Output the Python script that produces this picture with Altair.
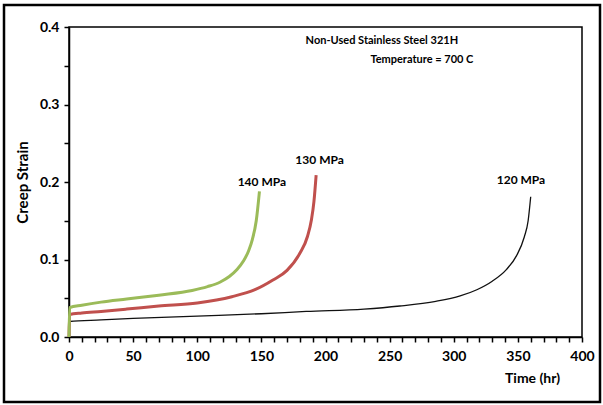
import altair as alt
import pandas as pd

# 140 MPa (green)
t140 = [0, 0.5, 10, 25, 45, 70, 96, 108, 118, 125, 131, 136, 140, 143, 146, 148.5]
s140 = [0, 0.038, 0.041, 0.045, 0.049, 0.054, 0.060, 0.065, 0.071, 0.078, 0.087, 0.098, 0.111, 0.126, 0.150, 0.188]
# 130 MPa (red)
t130 = [0, 0.5, 10, 25, 45, 70, 100, 127, 145, 159, 170, 180, 186, 189, 191, 192.7]
s130 = [0, 0.029, 0.031, 0.033, 0.036, 0.040, 0.044, 0.052, 0.061, 0.0735, 0.086, 0.108, 0.130, 0.151, 0.175, 0.209]
# 120 MPa (black)
t120 = [0, 0.5, 25, 50, 100, 150, 185, 230, 258, 286, 305, 318, 330, 341, 349, 355, 358, 360]
s120 = [0, 0.020, 0.022, 0.024, 0.027, 0.030, 0.033, 0.036, 0.040, 0.046, 0.053, 0.061, 0.072, 0.087, 0.105, 0.129, 0.150, 0.181]

curve_text = ["140 MPa", "130 MPa", "120 MPa"]
curve_t = [131.5, 176.5, 333.5]
curve_s = [0.200, 0.228, 0.2025]

note_text = ["Non-Used Stainless Steel 321H", "Temperature = 700 C"]
note_t = [184.5, 235.0]
note_s = [0.382, 0.357]

x_ticks = list(range(0, 401, 10))
y_ticks = [0, 0.05, 0.1, 0.15, 0.2, 0.25, 0.3, 0.35, 0.4]

FONT = "Lato"

def df(t, s, name):
    return pd.DataFrame({"t": t, "s": s, "series": name})

x_scale = alt.Scale(domain=[0, 400], nice=False, zero=False)
y_scale = alt.Scale(domain=[0, 0.4], nice=False)

x_axis = alt.Axis(
    values=x_ticks,
    labelExpr="datum.value % 50 == 0 ? datum.label : ''",
    format="d",
    grid=False, domainColor="black", domainWidth=1.5,
    tickColor="black", tickSize=5, tickWidth=1.5,
    labelFont=FONT, labelFontSize=14, labelFontWeight="bold", labelColor="black",
    labelPadding=7, labelFlush=False, labelOverlap=False, labelBound=False,
    title="Time (hr)", titleFont=FONT, titleFontSize=14, titleFontWeight="bold",
    titleColor="black", titleX=463, titleY=41, titleAlign="center", titleBaseline="middle",
)
y_axis = alt.Axis(
    values=y_ticks,
    labelExpr="abs(round(datum.value*10) - datum.value*10) < 1e-6 ? format(datum.value, '.1f') : ''",
    grid=False, domainColor="black", domainWidth=1.5,
    tickColor="black", tickSize=5, tickWidth=1.5,
    labelFont=FONT, labelFontSize=14, labelFontWeight="bold", labelColor="black",
    labelPadding=5, labelFlush=False, labelOverlap=False, labelBound=False,
    title="Creep  Strain", titleFont=FONT, titleFontSize=15, titleFontWeight="bold",
    titleColor="black", titleX=-47, titleY=155, titleAngle=-90, titleAlign="center",
    titleBaseline="middle",
)

X = alt.X("t:Q", scale=x_scale, axis=x_axis)
Y = alt.Y("s:Q", scale=y_scale, axis=y_axis)

def line(d, color, width):
    return alt.Chart(d).mark_line(color=color, strokeWidth=width, interpolate="monotone").encode(
        x=X, y=Y, order="t:Q",
    )

l120 = line(df(t120, s120, "120"), "#111111", 1.3)
l130 = line(df(t130, s130, "130"), "#C0504D", 3)
l140 = line(df(t140, s140, "140"), "#9BBB59", 3)

curve_labels = alt.Chart(pd.DataFrame({"t": curve_t, "s": curve_s, "txt": curve_text})).mark_text(
    align="left", baseline="middle", font=FONT, fontSize=12, fontWeight="bold", color="black"
).encode(x=X, y=Y, text="txt:N")

notes = alt.Chart(pd.DataFrame({"t": note_t, "s": note_s, "txt": note_text})).mark_text(
    align="left", baseline="middle", font=FONT, fontSize=11, fontWeight="bold", color="black"
).encode(x=X, y=Y, text="txt:N")

frame = alt.Chart(pd.DataFrame({"a": [0]})).mark_rect(
    fill=None, fillOpacity=0, stroke="black", strokeWidth=2.5
).encode(x=alt.value(-65), x2=alt.value(531), y=alt.value(-22), y2=alt.value(375))

chart = alt.layer(l120, l130, l140, curve_labels, notes, frame).properties(
    width=513, height=310,
    autosize=alt.AutoSizeParams(type="none"),
    padding={"left": 69, "top": 27, "right": 21, "bottom": 68},
    background="white",
).configure_view(stroke="black", strokeWidth=1.5)

chart.save("out.html", embed_options={"renderer": "svg", "actions": False})
